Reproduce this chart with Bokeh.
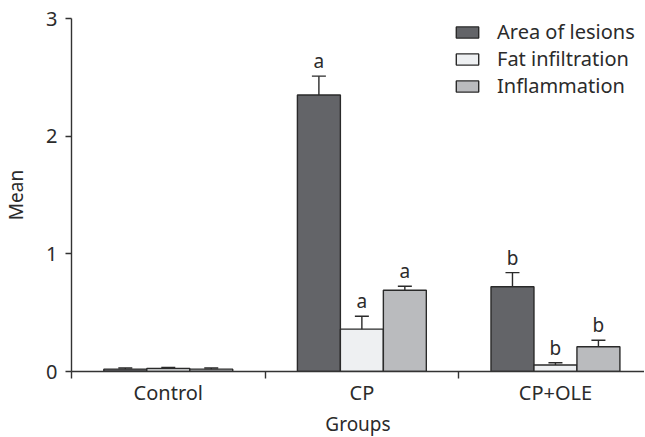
from bokeh.plotting import figure
from bokeh.models import (ColumnDataSource, Range1d, FixedTicker, Whisker, TeeHead,
                          Legend, LegendItem, LabelSet)
from bokeh.core.properties import value
from bokeh.embed import file_html
from bokeh.resources import INLINE

groups = ["Control", "CP", "CP+OLE"]
series = ["Area of lesions", "Fat infiltration", "Inflammation"]
area_mean = [0.02, 2.35, 0.72]
area_err = [0.01, 0.16, 0.12]
fat_mean = [0.025, 0.36, 0.055]
fat_err = [0.01, 0.11, 0.02]
infl_mean = [0.02, 0.69, 0.21]
infl_err = [0.01, 0.035, 0.055]
area_sig = ["", "a", "b"]
fat_sig = ["", "a", "b"]
infl_sig = ["", "a", "b"]
y_ticks = [0, 1, 2, 3]

colors = ["#636468", "#eef0f2", "#babbbe"]
edge = "#2a2a2a"
txt = "#2b2b2b"
FONT = "Noto Sans"

FW, FH = 573, 353
p = figure(frame_width=FW, frame_height=FH, output_backend="svg", toolbar_location=None,
           x_range=Range1d(0, 2.96), y_range=Range1d(0, 3),
           min_border_left=64, min_border_right=0, min_border_top=18, min_border_bottom=58)
p.grid.visible = False
p.outline_line_color = None
p.background_fill_color = "white"
p.border_fill_color = "white"

centers = [i + 0.5 for i in range(len(groups))]
bw = 0.222
offsets = [-bw, 0.0, bw]
means = [area_mean, fat_mean, infl_mean]
errs = [area_err, fat_err, infl_err]
sigs = [area_sig, fat_sig, infl_sig]

renderers = []
for k in range(3):
    xs = [c + offsets[k] for c in centers]
    src = ColumnDataSource(dict(x=xs, top=means[k]))
    r = p.vbar(x="x", top="top", width=bw, source=src, fill_color=colors[k],
               line_color=edge, line_width=1.4)
    renderers.append(r)

for k in range(3):
    xs = [c + offsets[k] for c in centers]
    upper = [m + e for m, e in zip(means[k], errs[k])]
    if k == 0:
        lower = list(means[k])
    else:
        lower = [m - e for m, e in zip(means[k], errs[k])]
    src = ColumnDataSource(dict(x=xs, upper=upper, lower=lower, sig=sigs[k]))
    w = Whisker(base="x", upper="upper", lower="lower", source=src,
                line_color=edge, line_width=1.4,
                upper_head=TeeHead(size=14, line_color=edge, line_width=1.4),
                lower_head=TeeHead(size=14, line_color=edge, line_width=1.4) if k else None)
    p.add_layout(w)
    lab = LabelSet(x="x", y="upper", text="sig", source=src, text_align="center",
                   text_baseline="alphabetic", y_offset=8, text_font=value(FONT),
                   text_font_size="19px", text_color=txt)
    p.add_layout(lab)

# axes
p.yaxis.ticker = FixedTicker(ticks=y_ticks)
p.yaxis.axis_label = "Mean"
p.xaxis.axis_label = "Groups"
p.xaxis.ticker = FixedTicker(ticks=centers, minor_ticks=[0, 1, 2, 3])
p.xaxis.major_label_overrides = {c: g for c, g in zip(centers, groups)}
p.xaxis.major_tick_out = 0
p.xaxis.major_tick_in = 0
p.xaxis.minor_tick_out = 7
p.xaxis.minor_tick_in = 0
p.yaxis.major_tick_out = 6
p.yaxis.major_tick_in = 0
for ax in (p.xaxis, p.yaxis):
    ax.axis_line_color = "#333333"
    ax.axis_line_width = 1.4
    ax.major_tick_line_color = "#333333"
    ax.major_tick_line_width = 1.4
    ax.minor_tick_line_color = "#333333"
    ax.minor_tick_line_width = 1.4
    ax.major_label_text_font = FONT
    ax.major_label_text_font_size = "20px"
    ax.major_label_text_color = txt
    ax.axis_label_text_font = FONT
    ax.axis_label_text_font_size = "19px"
    ax.axis_label_text_font_style = "normal"
    ax.axis_label_text_color = txt
p.yaxis.minor_tick_line_color = None
p.xaxis.major_label_standoff = 0
p.xaxis.axis_label_standoff = 2
p.yaxis.major_label_standoff = 8
p.yaxis.axis_label_standoff = 14

legend = Legend(items=[LegendItem(label=s, renderers=[r]) for s, r in zip(series, renderers)],
                location=(382, FH - 81), margin=0, padding=0, spacing=0,
                glyph_width=28, glyph_height=14, label_standoff=16,
                label_text_font=FONT, label_text_font_size="20px",
                label_text_color=txt, border_line_color=None,
                background_fill_alpha=0)
p.add_layout(legend)

open("out.html", "w").write(file_html(p, INLINE))
